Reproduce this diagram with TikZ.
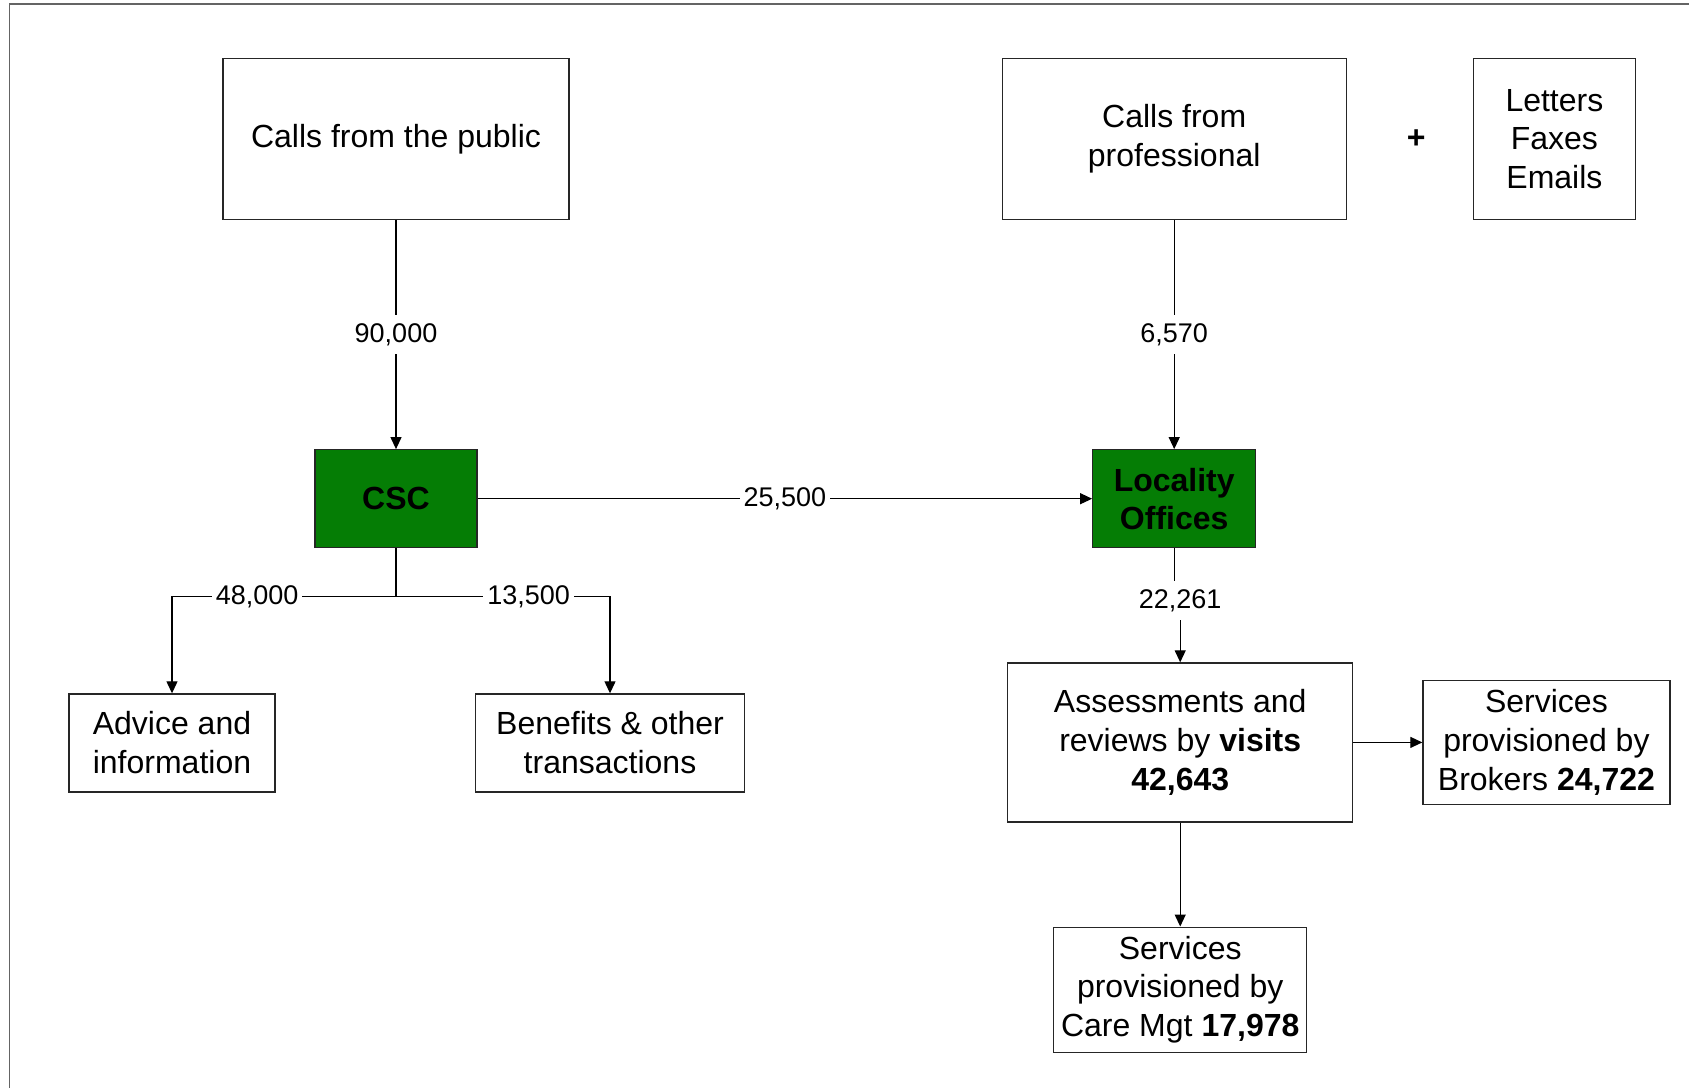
\documentclass[tikz,border=0pt]{standalone}
\usepackage{fontspec}
\setmainfont{Liberation Sans}
\usepackage{xcolor}
\definecolor{cscgreen}{RGB}{5,125,5}
\definecolor{framegray}{RGB}{100,100,100}
\usepackage{tikz}
\usetikzlibrary{
    arrows.meta,
    positioning,
    calc
}

\begin{document}
\begin{tikzpicture}[
    box/.style={
        rectangle, draw=black!85, line width=0.6pt, align=center,
        inner sep=2pt, font=\fontsize{16}{19.4}\selectfont
    },
    office/.style={
        box, fill=cscgreen, font=\fontsize{16}{18.9}\selectfont\bfseries
    },
    count/.style={
        fill=white, inner xsep=2pt, inner ysep=4pt,
        font=\fontsize{13.5}{16}\selectfont
    },
    flow/.style={-{Triangle[length=6pt,width=5.5pt]}, line width=0.6pt}
]
    \useasboundingbox (0,0) rectangle (844.5pt,-544pt);
    \draw[framegray,line width=0.6pt] (4.8pt,-544pt) -- (4.8pt,-2pt) -- (844.5pt,-2pt);

    % Sources
    \node[box,minimum width=173pt,minimum height=80.5pt] (public) at (198pt,-69.5pt) {Calls from the public};
    \node[box,minimum width=172pt,minimum height=80.5pt,right=216pt of public] (prof) {Calls from\\professional};
    \node[box,minimum width=81pt,minimum height=80.5pt,right=63pt of prof] (letters) {Letters\\Faxes\\Emails};
    \node[font=\fontsize{16}{19}\selectfont\bfseries] (plus) at ($(prof.east)!0.55!(letters.west)$) {+};

    % Offices
    \node[office,minimum width=81pt,minimum height=49pt,below=114.5pt of public] (csc) {CSC};
    \node[office,minimum width=81.5pt,minimum height=49pt,below=114.5pt of prof] (loc) {Locality\\Offices};

    % Outcomes
    \node[box,minimum width=103pt,minimum height=49pt,below=72.5pt of csc,xshift=-112pt] (advice) {Advice and\\information};
    \node[box,minimum width=134.5pt,minimum height=49pt,below=72.5pt of csc,xshift=107pt] (benefits) {Benefits \& other\\transactions};
    \node[box,minimum width=172.5pt,minimum height=79.5pt,below=57pt of loc,xshift=3pt] (assess) {Assessments and\\reviews by \textbf{visits}\\\textbf{42,643}};
    \node[box,minimum width=123.5pt,minimum height=62pt,right=34.5pt of assess] (brokers) {Services\\provisioned by\\Brokers \textbf{24,722}};
    \node[box,minimum width=126.5pt,minimum height=62.5pt,below=52pt of assess] (caremgt) {Services\\provisioned by\\Care Mgt \textbf{17,978}};

    % Flows
    \draw[flow] (public) -- node[count] {90,000} (csc);
    \draw[flow] (prof) -- node[count] {6,570} (loc);
    \draw[flow] (csc) -- node[count] {25,500} (loc);
    \coordinate[below=24pt of csc] (split);
    \draw[line width=0.6pt] (csc) -- (split);
    \draw[flow] (split) -| node[count,pos=0.31] {48,000} (advice);
    \draw[flow] (split) -| node[count,pos=0.31] {13,500} (benefits);
    \node[count,below=16.5pt of loc,xshift=3pt] (visits) {22,261};
    \draw[line width=0.6pt] (loc) -- (loc.south |- visits.north);
    \draw[flow] (visits) -- (assess);
    \draw[flow] (assess) -- (brokers);
    \draw[flow] (assess) -- (caremgt);
\end{tikzpicture}
\end{document}
